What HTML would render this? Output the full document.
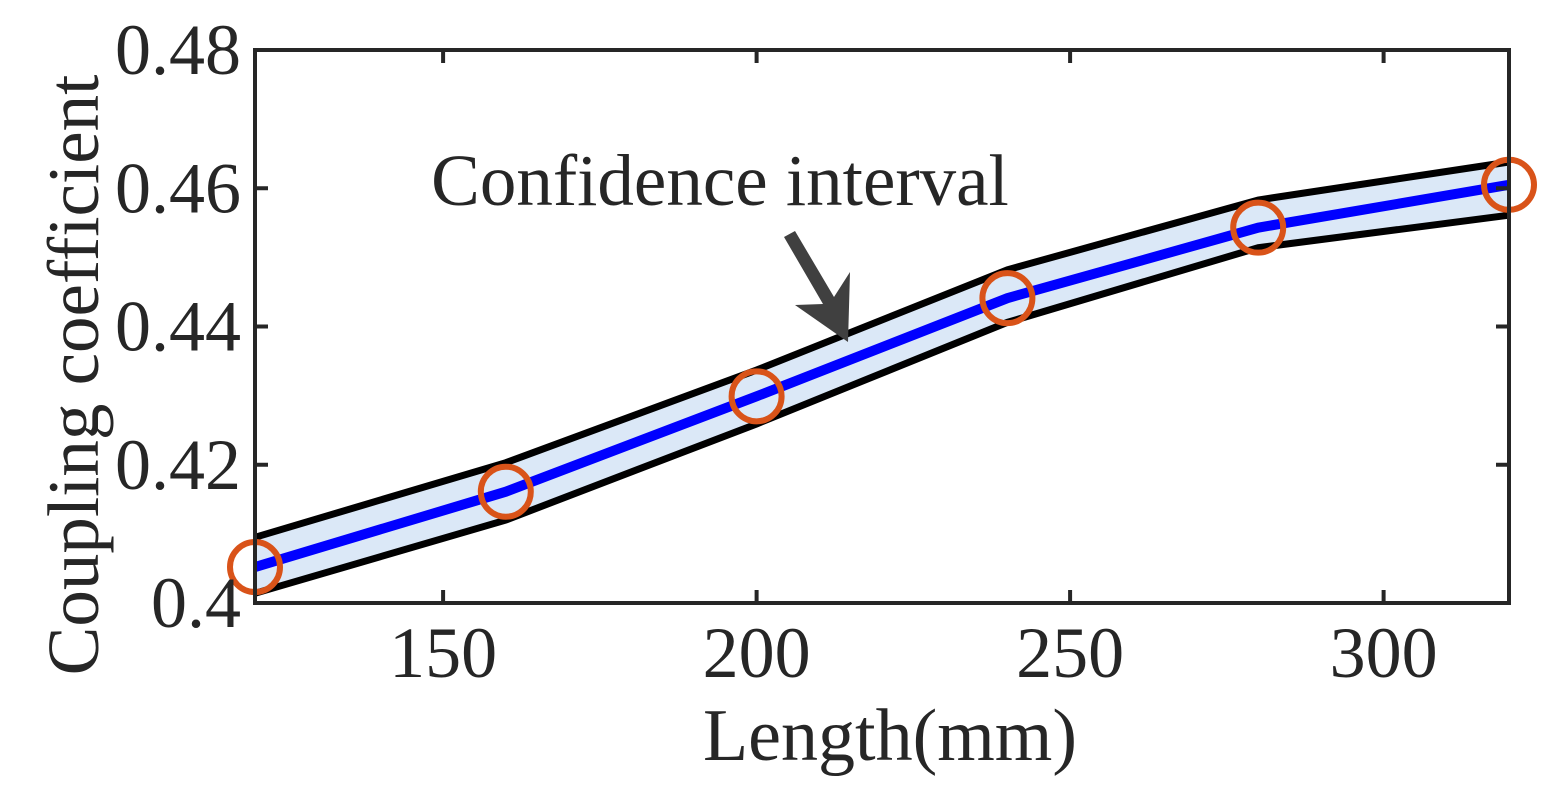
<!DOCTYPE html>
<html><head><meta charset="utf-8"><style>
body{margin:0;background:#fff}
svg text{font-family:"Liberation Serif",serif;fill:#262626}
</style></head><body>
<svg width="1545" height="791">
<g id="plot"></g>
<text x="720" y="205" font-size="73" text-anchor="middle" fill="#000">Confidence interval</text>
<polygon points="784,237 795,231 834,297 850,272 848,342 795,305 823,304" fill="#404040"/>
<text x="890" y="760" font-size="74" text-anchor="middle">Length(mm)</text>
<text transform="translate(98,375) rotate(-90)" font-size="73" text-anchor="middle">Coupling coefficient</text>
</svg>
<script>
const xs=[120,160,200,240,280,320];
const mean=[0.4052,0.4161,0.4299,0.4441,0.4543,0.4605];
const upper=[0.4095,0.4203,0.4337,0.4482,0.4583,0.4638];
const lower=[0.4014,0.4120,0.4259,0.4406,0.4514,0.4561];
const xTicks=[150,200,250,300];
const yTicks=[0.4,0.42,0.44,0.46,0.48];
const yLabels=["0.4","0.42","0.44","0.46","0.48"];
const L=255,R=1509,T=50,B=603;
const X=v=>L+(v-120)/200*(R-L);
const Y=v=>B-(v-0.4)/0.08*(B-T);
const ns="http://www.w3.org/2000/svg";
const g=document.getElementById('plot');
function mk(t,a){const e=document.createElementNS(ns,t);for(const k in a)e.setAttribute(k,a[k]);g.appendChild(e);return e;}
const up=xs.map((x,i)=>X(x)+','+Y(upper[i]));
const lo=xs.map((x,i)=>X(x)+','+Y(lower[i])).reverse();
let e=mk('polygon',{points:up.concat(lo).join(' '),fill:'#dbe8f7'});


e=mk('polyline',{points:up.join(' '),fill:'none',stroke:'#000','stroke-width':7});


e=mk('polyline',{points:lo.join(' '),fill:'none',stroke:'#000','stroke-width':7});


e=mk('polyline',{points:xs.map((x,i)=>X(x)+','+Y(mean[i])).join(' '),fill:'none',stroke:'#0000ff','stroke-width':10});


xs.forEach((x,i)=>{
 const c=mk('circle',{cx:X(x),cy:Y(mean[i]),r:25,fill:'none',stroke:'#d95319','stroke-width':6});
 
 
});
e=mk('rect',{x:L,y:T,width:R-L,height:B-T,fill:'none',stroke:'#262626','stroke-width':4});


xTicks.forEach(v=>{
 const x=X(v);
 mk('line',{x1:x,x2:x,y1:B,y2:B-13,stroke:'#262626','stroke-width':4});
 mk('line',{x1:x,x2:x,y1:T,y2:T+13,stroke:'#262626','stroke-width':4});
 const t=mk('text',{x:x,y:B+74,'font-size':72,'text-anchor':'middle'});t.textContent=v;
 
 
});
yTicks.forEach((v,i)=>{
 const y=Y(v);
 mk('line',{x1:L,x2:L+13,y1:y,y2:y,stroke:'#262626','stroke-width':4});
 mk('line',{x1:R,x2:R-13,y1:y,y2:y,stroke:'#262626','stroke-width':4});
 const t=mk('text',{x:L-14,y:y+24,'font-size':72,'text-anchor':'end'});t.textContent=yLabels[i];
 
 
});
</script>
</body></html>
